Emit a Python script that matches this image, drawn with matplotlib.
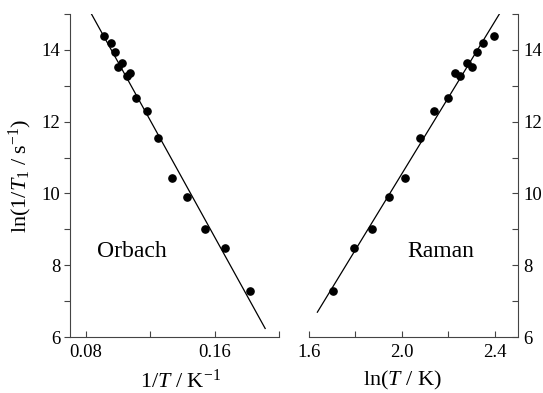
import numpy as np
import matplotlib
matplotlib.use("Agg")
import matplotlib.pyplot as plt

plt.rcParams["font.family"] = ["Liberation Serif", "DejaVu Serif"]
plt.rcParams["mathtext.fontset"] = "custom"
plt.rcParams["mathtext.rm"] = "Liberation Serif"
plt.rcParams["mathtext.it"] = "Liberation Serif:italic"

# temperatures (K) and ln(1/T1)
temps = [11.0, 10.5, 10.2, 10.0, 9.8, 9.5, 9.3, 9.0, 8.5, 8.0, 7.5, 7.0, 6.5, 6.0, 5.5]
ln_rate = [14.40, 14.20, 13.94, 13.51, 13.63, 13.28, 13.36, 12.67, 12.31,
           11.54, 10.44, 9.89, 9.02, 8.47, 7.27]

# straight fits drawn in each panel: y = a + b*x over [x0, x1]
orbach_fit = (21.76, -81.1, 0.0834, 0.1914)
raman_fit = (-10.65, 10.6, 1.636, 2.4215)

inv_t = 1.0 / np.array(temps)
ln_t = np.log(np.array(temps))

fig = plt.figure(figsize=(5.43, 3.93), dpi=100)
ax1 = fig.add_axes([70 / 543, 56 / 393, 209 / 543, 323 / 393])
ax2 = fig.add_axes([309 / 543, 56 / 393, 209 / 543, 323 / 393])

lw = 0.9
tick_fs = 13.5
label_fs = 16
for ax in (ax1, ax2):
    ax.set_ylim(6, 15)
    ax.spines["top"].set_visible(False)
    for s in ax.spines.values():
        s.set_linewidth(0.8)
        s.set_color("#444444")

# --- Orbach panel
ax1.plot(inv_t, ln_rate, "o", color="black", ms=5.2, zorder=3)
a, b, x0, x1 = orbach_fit
xs = np.array([x0, x1])
ax1.plot(xs, a + b * xs, color="black", lw=lw)
ax1.set_xlim(0.07, 0.2)
ax1.set_xticks([0.08, 0.16])
ax1.set_xticklabels(["0.08", "0.16"])
ax1.set_xticks([0.12, 0.2], minor=True)
ax1.set_yticks([6, 8, 10, 12, 14])
ax1.set_yticks([7, 9, 11, 13, 15], minor=True)
ax1.spines["right"].set_visible(False)
ax1.tick_params(axis="x", which="both", direction="in", length=4, width=0.8,
                labelsize=tick_fs, pad=5, color="#444444")
ax1.tick_params(axis="y", which="both", direction="out", length=4, width=0.8,
                labelsize=tick_fs, pad=3, color="#444444")
ax1.set_xlabel(r"1/$T$ / K$^{-1}$", fontsize=label_fs)
ax1.xaxis.set_label_coords(0.53, -0.1)
ax1.set_ylabel(r"ln(1/$T_1$ / s$^{-1}$)", fontsize=label_fs)
ax1.yaxis.set_label_coords(-0.17, 0.5)
ax1.text(0.087, 8.37, "Orbach", fontsize=17, va="center", ha="left")

# --- Raman panel
ax2.plot(ln_t, ln_rate, "o", color="black", ms=5.2, zorder=3)
a, b, x0, x1 = raman_fit
xs = np.array([x0, x1])
ax2.plot(xs, a + b * xs, color="black", lw=lw)
ax2.set_xlim(1.6, 2.5)
ax2.set_xticks([1.6, 2.0, 2.4])
ax2.set_xticklabels(["1.6", "2.0", "2.4"])
ax2.set_xticks([1.8, 2.2], minor=True)
ax2.set_yticks([6, 8, 10, 12, 14])
ax2.set_yticks([7, 9, 11, 13, 15], minor=True)
ax2.spines["left"].set_visible(False)
ax2.yaxis.tick_right()
ax2.tick_params(axis="x", which="both", direction="in", length=4, width=0.8,
                labelsize=tick_fs, pad=5, color="#444444")
ax2.tick_params(axis="y", which="both", direction="in", length=4, width=0.8,
                labelsize=tick_fs, pad=4, color="#444444")
ax2.set_xlabel(r"ln($T$ / K)", fontsize=label_fs)
ax2.xaxis.set_label_coords(0.447, -0.1)
ax2.text(2.024, 8.37, "Raman", fontsize=17, va="center", ha="left")

fig.savefig("out.png", dpi=100)
